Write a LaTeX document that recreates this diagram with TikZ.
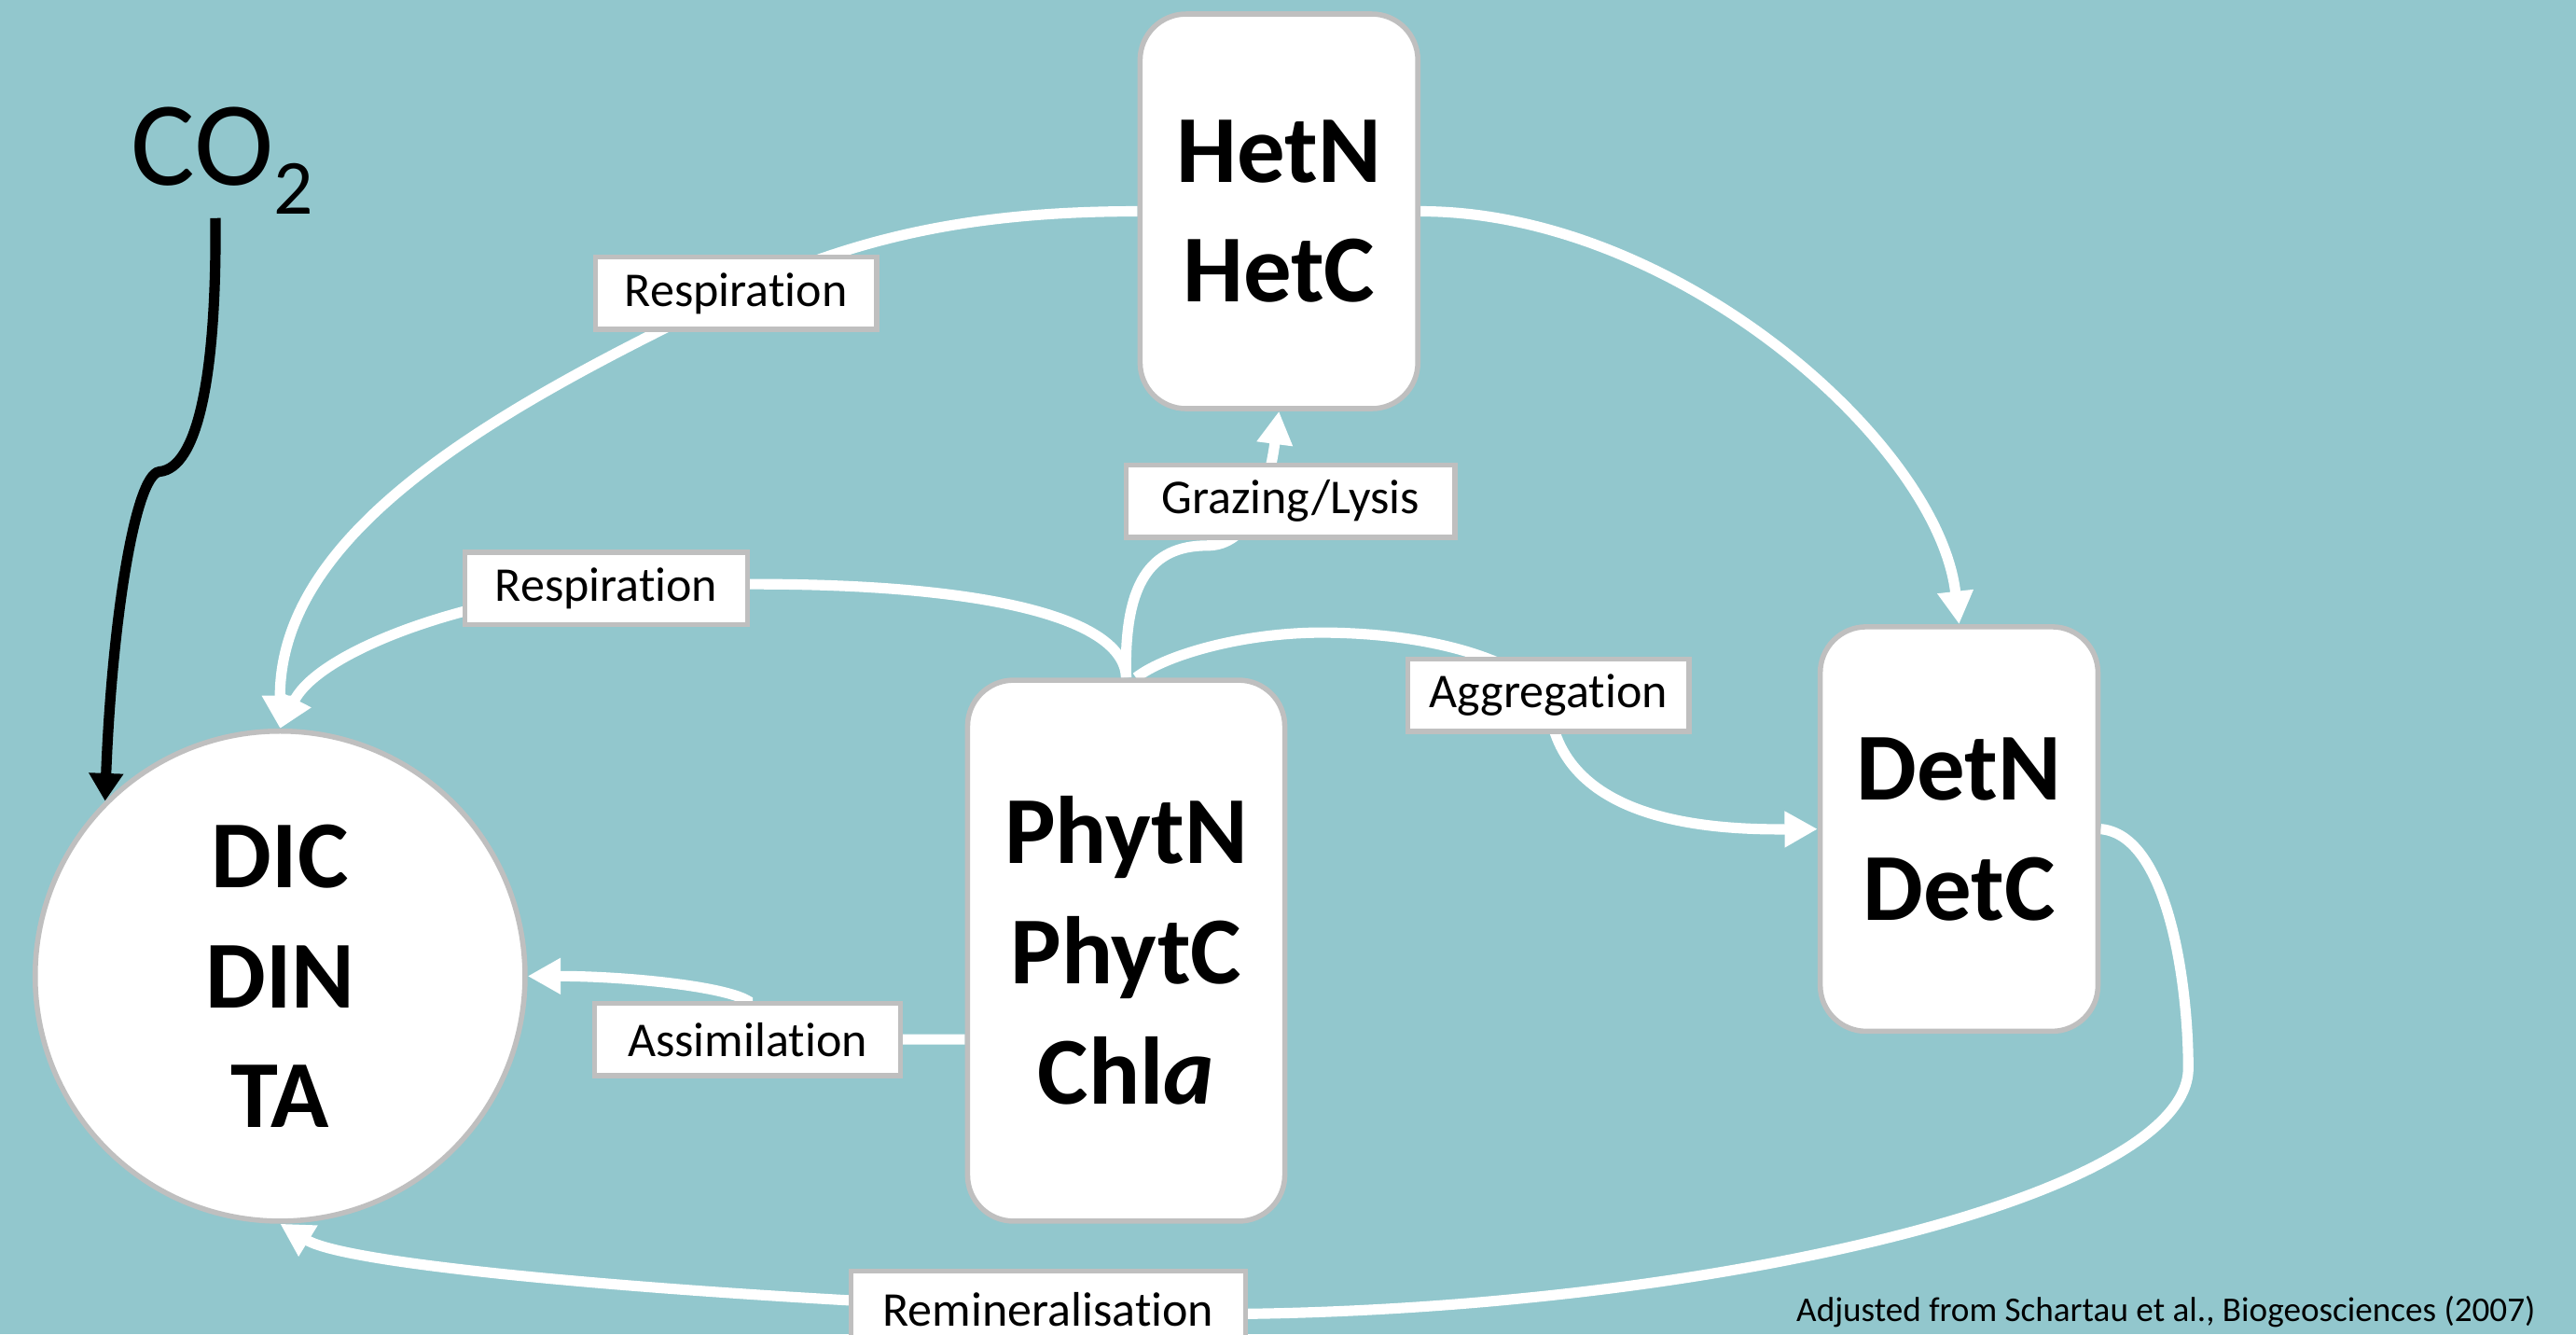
\documentclass[tikz,border=0pt]{standalone}
\usepackage{fontspec}
\setmainfont{Carlito}[Ligatures={NoCommon}]
\usetikzlibrary{arrows.meta,calc}
\definecolor{bgteal}{HTML}{92C7CD}
\definecolor{edgegray}{HTML}{BFBFBF}
\pgfdeclarelayer{back}
\pgfdeclarelayer{edges}
\pgfsetlayers{back,edges,main}
\newcommand{\poolfont}{\fontsize{16.6pt}{20.8pt}\selectfont\bfseries}
\newcommand{\labfont}{\fontsize{8.4pt}{10pt}\selectfont}
\tikzset{
  pool/.style={draw=edgegray, line width=0.9pt, fill=white, rounded corners=0.28cm,
    inner sep=0pt, align=center, font=\poolfont},
  poolcircle/.style={draw=edgegray, line width=0.9pt, fill=white, circle,
    inner sep=0pt, align=center, font=\poolfont, minimum size=2.98cm},
  lab/.style={draw=edgegray, line width=0.9pt, fill=white, inner xsep=0.1cm,
    inner ysep=0pt, minimum height=0.44cm, font=\labfont},
  flow/.style={draw=white, line width=1.8pt, -{Triangle[length=5.7pt,width=5.9pt]}},
  co2flow/.style={draw=black, line width=1.8pt, -{Triangle[length=4.8pt,width=5.7pt]}}
}
\begin{document}
\begin{tikzpicture}[x=0.01cm, y=-0.01cm]
\useasboundingbox (0,0) rectangle (1568,812);
\begin{pgfonlayer}{back}
  \fill[bgteal] (0,0) rectangle (1568,812);
\end{pgfonlayer}

% pools
\node[pool, minimum width=1.69cm, minimum height=2.40cm] (HetN) at (778.5,128.6) {HetN\\HetC};
\node[pool, minimum width=1.69cm, minimum height=2.46cm] (DetN) at (1192.5,504.5) {DetN\\DetC};
\node[pool, minimum width=1.93cm, minimum height=3.29cm] (PhytN) at (685.5,578.5) {PhytN\\PhytC\\Chl\textit{a}};
\node[poolcircle] (DIC) at (170.5,594) {DIC\\DIN\\TA};

% CO2
\node[anchor=base west, inner sep=0pt, font=\fontsize{20.8pt}{24pt}\selectfont] (CO2) at (79,112.6)
  {CO\raisebox{-4.95pt}{\fontsize{13.5pt}{14pt}\selectfont 2}};

% labels
\node[lab, minimum width=1.71cm] (resp1) at (448,178.5) {Respiration};
\node[lab, minimum width=2.00cm] (graz) at (785.5,305) {Grazing/Lysis};
\node[lab, minimum width=1.72cm] (resp2) at (369,358) {Respiration};
\node[lab, minimum width=1.71cm] (agg) at (942.5,423) {Aggregation};
\node[lab, minimum width=1.86cm] (asm) at (455,632.5) {Assimilation};
\node[lab, minimum width=2.40cm, minimum height=0.47cm] (rem) at (638,797) {Remineralisation};

% source note
\node[anchor=base east, inner sep=0pt, font=\fontsize{6pt}{7pt}\selectfont] (note) at (1544,804)
  {Adjusted from Schartau et al., Biogeosciences (2007)};

\begin{pgfonlayer}{edges}
  % HetN -> DIC (respiration)
  \draw[flow] (HetN.west) .. controls (590,128.6) and (520,145) .. (resp1.center)
    .. controls (310,245) and (170,320) .. (DIC.north);
  % HetN -> DetN
  \draw[flow] (HetN.east) .. controls (1020,128.6) and (1180,270) .. (DetN.north);
  % PhytN -> HetN (grazing/lysis)
  \draw[flow] (PhytN.north) .. controls (684,355) and (700,332) .. (735,332)
    .. controls (760,332) and (772,300) .. (HetN.south);
  % PhytN -> DIC (respiration)
  \draw[flow] (PhytN.north) .. controls (684,368) and (560,348) .. (resp2.center)
    .. controls (290,362) and (195,395) .. (DIC.north);
  % PhytN -> DetN (aggregation)
  \draw[flow] ($(PhytN.north)+(6,0)$) .. controls (710,398) and (760,384) .. (810,385)
    .. controls (870,386) and (920,400) .. (agg.center)
    .. controls (945,500) and (1040,505) .. (DetN.west);
  % PhytN -> DIC (assimilation)
  \draw[flow] (PhytN.west |- asm.east) -- (asm.center) -- (asm.north)
    .. controls (440,600) and (380,594) .. (DIC.east);
  % DetN -> DIC (remineralisation)
  \draw[flow] (DetN.east) .. controls (1320,508) and (1332,600) .. (1332,650)
    .. controls (1332,740) and (950,815) .. (rem.center)
    .. controls (450,790) and (215,772) .. (DIC.south);
  % CO2 -> DIC
  \draw[co2flow] ($(CO2.south)+(-4,2)$) .. controls (132,230) and (120,285) .. (97,287)
    .. controls (82,289) and (68,380) .. (DIC.135);
\end{pgfonlayer}
\end{tikzpicture}
\end{document}
